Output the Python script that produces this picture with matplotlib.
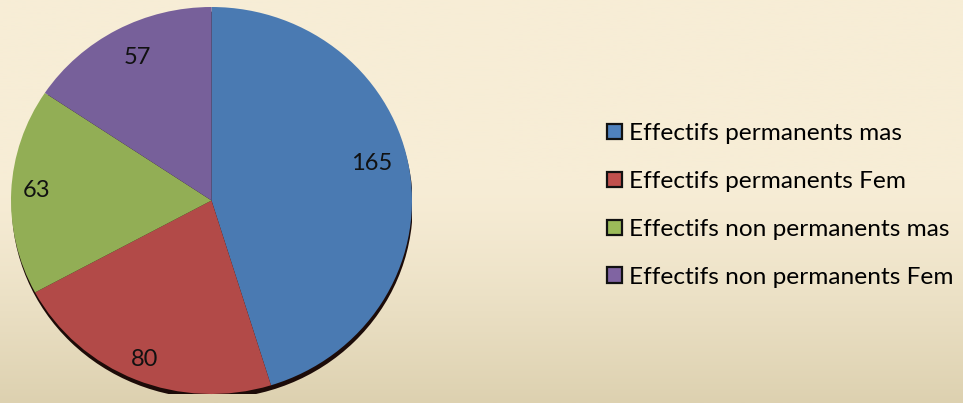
import numpy as np
import matplotlib

matplotlib.use("Agg")
import matplotlib.pyplot as plt
from matplotlib.patches import Ellipse, Rectangle

# ── Data ─────────────────────────────────────────────────────────────────────
categories = [
    "Effectifs permanents mas",
    "Effectifs permanents Fem",
    "Effectifs non permanents mas",
    "Effectifs non permanents Fem",
]
values = [165, 80, 63, 57]

# ── Style ────────────────────────────────────────────────────────────────────
colors = ["#4A7AB2", "#B24A48", "#92AE55", "#77609A"]
legend_colors = ["#4F81BD", "#C0504D", "#9BBB59", "#8064A2"]
FONT = ["Lato", "DejaVu Sans"]
label_r = [0.82, 0.885, 0.875, 0.825]     # best-fit label placement
label_nudge = [5.0, 0.0, -0.8, -1.6]      # degrees

fig = plt.figure(figsize=(9.63, 4.03), dpi=100)

# background: cream fading to tan toward the bottom
bg = fig.add_axes([0, 0, 1, 1], zorder=0)
t = np.linspace(0, 1, 256)[:, None]
ramp = np.clip((t - 0.45) / 0.55, 0, 1) ** 1.3
top = np.array([247, 237, 214]) / 255
bot = np.array([221, 209, 176]) / 255
grad = top[None, None, :] * (1 - ramp[..., None]) + bot[None, None, :] * ramp[..., None]
bg.imshow(grad, aspect="auto", extent=[0, 1, 0, 1], origin="upper")
bg.axis("off")

# ── Pie ──────────────────────────────────────────────────────────────────────
ax = fig.add_axes([11 / 963, 9 / 403, 401 / 963, 387 / 403], zorder=1)
ax.add_patch(Ellipse((0.004, -0.024), 2.0, 2.0, facecolor="#1c0b08",
                     edgecolor="none", zorder=0))
wedges, _ = ax.pie(values, colors=colors, startangle=90, counterclock=False,
                   radius=1.0, wedgeprops=dict(linewidth=0, zorder=1))
ax.set_aspect("auto")
ax.set_xlim(-1, 1)
ax.set_ylim(-1, 1)
ax.axis("off")

for w, v, r, dn in zip(wedges, values, label_r, label_nudge):
    mid = np.deg2rad((w.theta1 + w.theta2) / 2 + dn)
    ax.text(r * np.cos(mid), r * np.sin(mid), str(v),
            ha="center", va="center", fontsize=17, family=FONT,
            color="#111111", zorder=3)

# ── Legend ───────────────────────────────────────────────────────────────────
handles = [Rectangle((0, 0), 1, 1, facecolor=c, edgecolor="#111111", linewidth=1.6)
           for c in legend_colors]
fig.legend(handles, categories, loc="center left", bbox_to_anchor=(607 / 963, 0.49),
           frameon=False, borderpad=0, borderaxespad=0, handlelength=0.6,
           handleheight=0.6, handletextpad=0.3, labelspacing=1.1,
           prop=dict(family=FONT, size=17.6))

fig.savefig("out.png", dpi=100, facecolor="white")
